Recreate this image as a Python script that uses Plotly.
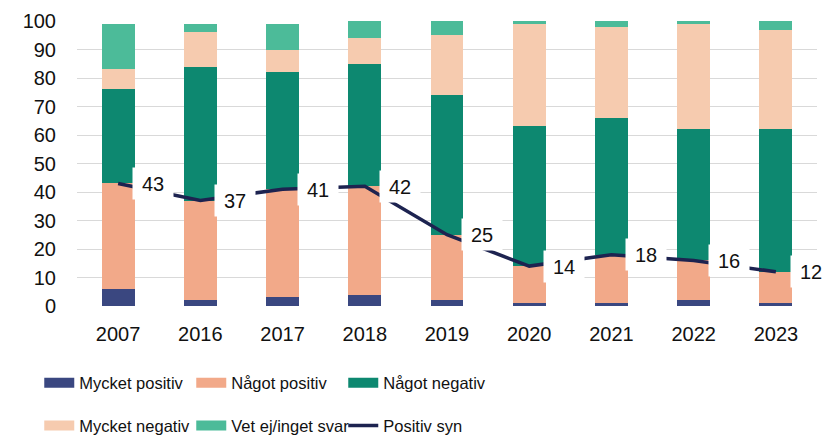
import plotly.graph_objects as go

years = ["2007", "2016", "2017", "2018", "2019", "2020", "2021", "2022", "2023"]
mycket_positiv = [6, 2, 3, 4, 2, 1, 1, 2, 1]
nagot_positiv = [37, 35, 38, 38, 23, 13, 17, 14, 11]
nagot_negativ = [33, 47, 41, 43, 49, 49, 48, 46, 50]
mycket_negativ = [7, 12, 8, 9, 21, 36, 32, 37, 35]
vet_ej = [16, 3, 9, 6, 5, 1, 2, 1, 3]
positiv_syn = [43, 37, 41, 42, 25, 14, 18, 16, 12]

series = [
    ("Mycket positiv", mycket_positiv, "#3a4780"),
    ("Något positiv", nagot_positiv, "#f2a989"),
    ("Något negativ", nagot_negativ, "#0d8870"),
    ("Mycket negativ", mycket_negativ, "#f6cbaf"),
    ("Vet ej/inget svar", vet_ej, "#4cbb99"),
]
line_color = "#1d2350"
tick_font = dict(family="Liberation Sans, Arial, sans-serif", size=20, color="#111111")
legend_font = dict(family="Liberation Sans, Arial, sans-serif", size=16.5, color="#111111")

fig = go.Figure()
for name, vals, col in series:
    fig.add_trace(go.Bar(x=years, y=vals, name=name, marker=dict(color=col, line=dict(width=0)),
                         width=0.4, showlegend=False))

fig.add_trace(go.Scatter(x=years, y=positiv_syn, mode="lines", name="Positiv syn",
                         line=dict(color=line_color, width=3.5), showlegend=False))

# legend entries
for i, (name, vals, col) in enumerate(series):
    fig.add_trace(go.Scatter(x=[None], y=[None], mode="lines", name=name,
                             line=dict(color=col, width=13),
                             legend="legend" if i < 3 else "legend2"))
fig.add_trace(go.Scatter(x=[None], y=[None], mode="lines", name="Positiv syn",
                         line=dict(color=line_color, width=3.5), legend="legend2"))

for i, v in enumerate(positiv_syn):
    fig.add_annotation(x=i, y=v, xref="x", yref="y", text=str(v), showarrow=False,
                       xanchor="left", yanchor="middle", align="center",
                       xshift=14, bgcolor="#ffffff", borderpad=4, width=32, height=23,
                       font=dict(family="Liberation Sans, Arial, sans-serif", size=20, color="#111111"))

leg_common = dict(orientation="h", font=legend_font, bgcolor="rgba(0,0,0,0)",
                  entrywidth=107, entrywidthmode="pixels", xanchor="left", yanchor="middle",
                  traceorder="normal", itemwidth=30)
fig.update_layout(
    width=823, height=436,
    margin=dict(l=77, r=6, t=21, b=130, autoexpand=False),
    paper_bgcolor="white", plot_bgcolor="white",
    barmode="stack", bargap=0.6,
    showlegend=True,
    legend=dict(x=-0.051, y=-0.27, **leg_common),
    legend2=dict(x=-0.051, y=-0.42, **leg_common),
    xaxis=dict(type="category", range=[-0.5, 8.5], tickfont=tick_font, showgrid=False,
               ticks="", ticklabelstandoff=14, showline=False, zeroline=False),
    yaxis=dict(range=[0, 100], dtick=10, tickfont=tick_font, showgrid=True, gridcolor="#d9d9d9",
               gridwidth=1.3, ticks="", ticklabelstandoff=20, zeroline=False, showline=False),
)

fig.write_html("out.html", config={"displayModeBar": False},
               post_script="document.body.style.margin='0';document.body.style.overflow='hidden';")
